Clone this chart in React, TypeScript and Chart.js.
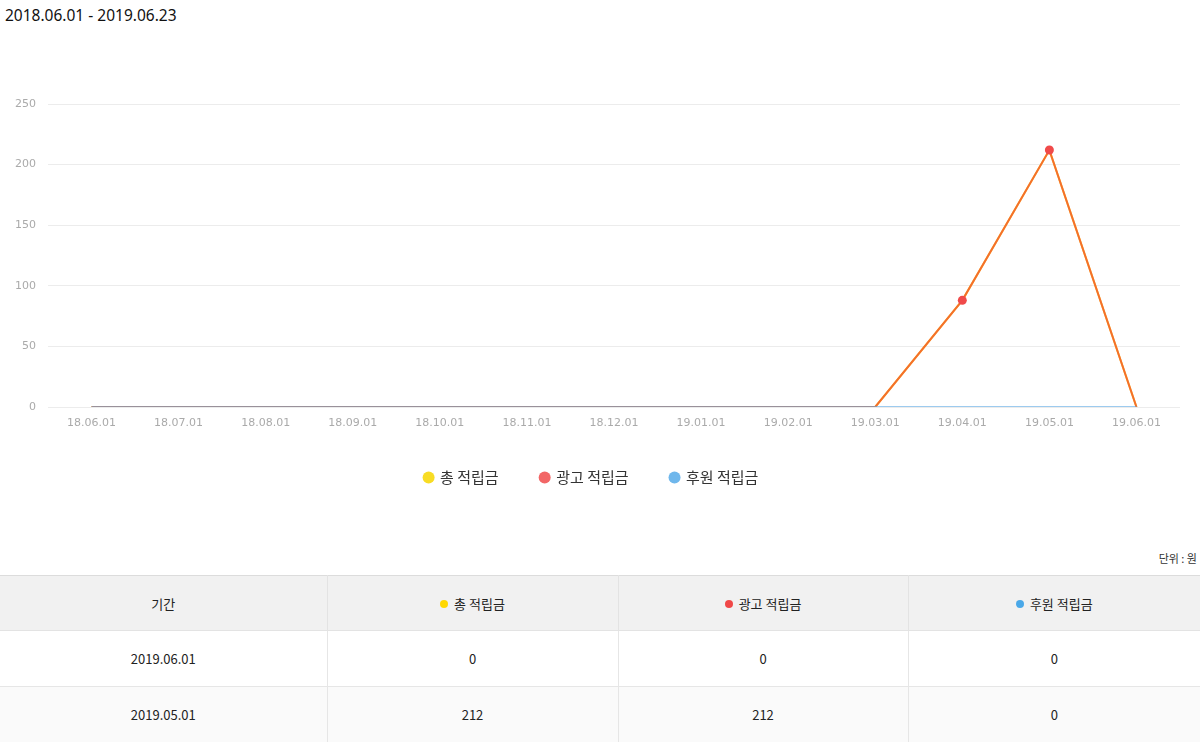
import React, { useEffect, useRef } from "react";
import { Chart, registerables } from "chart.js";

Chart.register(...registerables);

const periodLabel = "2018.06.01 - 2019.06.23";
const categories = [
  "18.06.01", "18.07.01", "18.08.01", "18.09.01", "18.10.01", "18.11.01", "18.12.01",
  "19.01.01", "19.02.01", "19.03.01", "19.04.01", "19.05.01", "19.06.01",
];
const totalValues = [0, 0, 0, 0, 0, 0, 0, 0, 0, 0, 88, 212, 0];
const adValues = [0, 0, 0, 0, 0, 0, 0, 0, 0, 0, 88, 212, 0];
const sponsorValues = [0, 0, 0, 0, 0, 0, 0, 0, 0, 0, 0, 0, 0];
const seriesNames = ["총 적립금", "광고 적립금", "후원 적립금"];
const yTicks = [0, 50, 100, 150, 200, 250];

const legendColors = ["#f8dc24", "#f26666", "#6fb7ec"];
const dotColors = ["#ffd800", "#f04848", "#4aa8e8"];

function LineChart() {
  const ref = useRef<HTMLCanvasElement | null>(null);
  useEffect(() => {
    if (!ref.current) return;
    const chart = new Chart(ref.current, {
      type: "line",
      data: {
        labels: categories,
        datasets: [
          {
            label: seriesNames[0],
            data: totalValues,
            borderColor: "rgba(255,212,0,1)",
            backgroundColor: "rgba(255,212,0,1)",
            borderWidth: 2,
            pointRadius: 0,
            tension: 0,
            order: 2,
          },
          {
            label: seriesNames[1],
            data: adValues,
            borderColor: "rgba(240,72,60,0.72)",
            backgroundColor: "#f04a4a",
            pointBackgroundColor: "#f04a4a",
            pointBorderWidth: 0,
            borderWidth: 2,
            pointRadius: (c: any) => (c.raw > 0 ? 4.5 : 0),
            tension: 0,
            order: 1,
          },
          {
            label: seriesNames[2],
            data: sponsorValues,
            borderColor: "rgba(91,169,229,0.6)",
            backgroundColor: "rgba(91,169,229,1)",
            borderWidth: 2,
            pointRadius: (c: any) => (c.raw > 0 ? 4.5 : 0),
            tension: 0,
            order: 0,
          },
        ],
      },
      options: {
        animation: false,
        responsive: true,
        maintainAspectRatio: false,
        layout: { padding: { top: 64, left: 3, right: 23, bottom: 0 } },
        plugins: {
          tooltip: { enabled: false },
          title: { display: false },
          legend: {
            display: true,
            position: "bottom",
            labels: {
              usePointStyle: true,
              boxWidth: 8,
              boxHeight: 8.5,
              padding: 42,
              color: "#333",
              font: { family: "'Noto Sans CJK KR', 'Noto Sans', sans-serif", size: 15 },
              generateLabels: (ch: any) =>
                ch.data.datasets.map((d: any, i: number) => ({
                  text: d.label,
                  fillStyle: legendColors[i],
                  strokeStyle: legendColors[i],
                  lineWidth: 0,
                  pointStyle: "circle",
                  hidden: false,
                  datasetIndex: i,
                  fontColor: "#333",
                })),
            },
          },
        },
        scales: {
          x: {
            offset: true,
            grid: { display: false, drawTicks: false },
            border: { display: false },
            afterFit: (scale: any) => {
              scale.height = 21;
            },
            ticks: {
              color: "#aaa",
              padding: 10,
              maxRotation: 0,
              autoSkip: false,
              font: { family: "'DejaVu Sans', sans-serif", size: 11 },
            },
          },
          y: {
            min: 0,
            max: 250,
            afterBuildTicks: (axis: any) => {
              axis.ticks = yTicks.map((v) => ({ value: v }));
            },
            grid: { color: "#ececec", drawTicks: false, lineWidth: 1 },
            border: { display: false },
            ticks: {
              color: "#aaa",
              padding: 12,
              font: { family: "'DejaVu Sans', sans-serif", size: 11 },
            },
          },
        },
      },
    });
    return () => chart.destroy();
  }, []);
  return (
    <div style={{ position: "relative", width: 1203, height: 455 }}>
      <canvas ref={ref} />
    </div>
  );
}

const headerCell: React.CSSProperties = {
  height: 54,
  background: "#f1f1f1",
  borderTop: "1px solid #dcdcdc",
  borderBottom: "1px solid #e3e3e3",
  borderRight: "1px solid #e3e3e3",
  fontWeight: "normal",
  textAlign: "center",
  padding: 0,
  color: "#222",
};
const bodyCell: React.CSSProperties = {
  height: 55,
  borderBottom: "1px solid #e6e6e6",
  borderRight: "1px solid #e6e6e6",
  textAlign: "center",
  padding: 0,
  color: "#222",
};

function Dot({ color }: { color: string }) {
  return (
    <span
      style={{
        display: "inline-block",
        width: 8,
        height: 8,
        borderRadius: "50%",
        background: color,
        marginRight: 6,
        verticalAlign: "middle",
        position: "relative",
        top: -1,
      }}
    />
  );
}

export default function App() {
  useEffect(() => {
    document.body.style.margin = "0";
    document.body.style.overflow = "hidden";
    document.documentElement.style.overflow = "hidden";
  }, []);
  const rows = categories
    .map((c, i) => ({ date: "20" + c, t: totalValues[i], a: adValues[i], s: sponsorValues[i] }))
    .reverse();
  const font = "'Noto Sans CJK KR', 'Noto Sans', sans-serif";
  return (
    <div style={{ width: 1203, background: "#fff", fontFamily: font }}>
      <div
        style={{
          height: 40,
          lineHeight: "30px",
          paddingLeft: 5,
          fontSize: 15.5,
          color: "#111",
          fontFamily: "'Noto Sans', sans-serif",
        }}
      >
        {periodLabel}
      </div>
      <LineChart />
      <div
        style={{
          marginTop: 55,
          height: 16,
          lineHeight: "16px",
          fontSize: 11,
          textAlign: "right",
          paddingRight: 6,
          color: "#333",
        }}
      >
        단위 : 원
      </div>
      <table
        style={{
          marginTop: 9,
          width: 1200,
          borderCollapse: "collapse",
          tableLayout: "fixed",
          fontSize: 13,
          fontFamily: font,
        }}
      >
        <colgroup>
          <col style={{ width: 327 }} />
          <col style={{ width: 291 }} />
          <col style={{ width: 290 }} />
          <col style={{ width: 292 }} />
        </colgroup>
        <thead>
          <tr>
            <th style={headerCell}>기간</th>
            <th style={headerCell}>
              <Dot color={dotColors[0]} />
              {seriesNames[0]}
            </th>
            <th style={headerCell}>
              <Dot color={dotColors[1]} />
              {seriesNames[1]}
            </th>
            <th style={{ ...headerCell, borderRight: "none" }}>
              <Dot color={dotColors[2]} />
              {seriesNames[2]}
            </th>
          </tr>
        </thead>
        <tbody>
          {rows.map((r, i) => (
            <tr key={r.date} style={{ background: i % 2 === 1 ? "#fafafa" : "#fff" }}>
              <td style={bodyCell}>{r.date}</td>
              <td style={bodyCell}>{r.t}</td>
              <td style={bodyCell}>{r.a}</td>
              <td style={{ ...bodyCell, borderRight: "none" }}>{r.s}</td>
            </tr>
          ))}
        </tbody>
      </table>
    </div>
  );
}
